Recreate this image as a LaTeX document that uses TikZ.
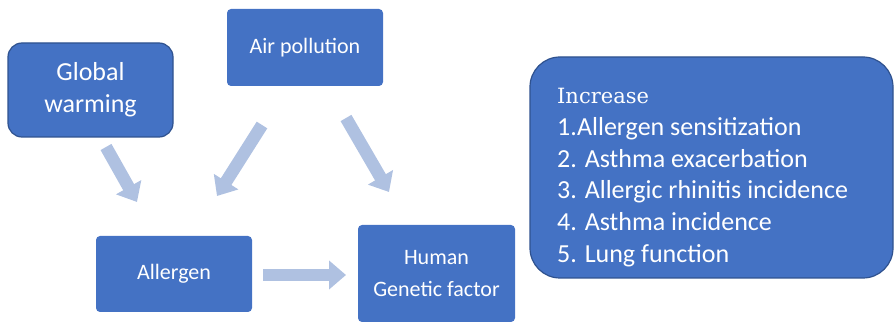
\documentclass[tikz,border=0pt]{standalone}
\usepackage{fontspec}
\setmainfont{Carlito}
\newfontfamily\serifinc{DejaVu Serif}
\usetikzlibrary{arrows.meta}
\definecolor{boxblue}{HTML}{4472C4}
\definecolor{boxedge}{HTML}{2F528F}
\definecolor{arrowblue}{HTML}{AFC1E1}
\begin{document}
\begin{tikzpicture}[x=1pt,y=-1pt,
  box/.style={fill=boxblue, text=white, rounded corners=4pt, inner sep=0pt, align=center},
  edgebox/.style={box, draw=boxedge, line width=1.2pt},
  blockarrow/.style={draw=arrowblue, line width=12.5pt, -{Triangle[width=28pt,length=17pt]}},
  lbl/.style={font=\fontsize{22}{32}\selectfont}
]
\useasboundingbox (0,0) rectangle (895,323);
\node[edgebox, rounded corners=14pt, minimum width=165pt, minimum height=94pt,
      font=\fontsize{26}{32}\selectfont] (gw) at (90.5,90) {Global\\warming};
\node[box, lbl, minimum width=156pt, minimum height=77pt] (ap) at (305,47.5) {Air pollution};
\node[box, lbl, minimum width=156pt, minimum height=76pt] (al) at (174,274) {Allergen};
\node[box, lbl, minimum width=157pt, minimum height=97pt] (hu) at (436.5,273.5) {Human\\Genetic factor};
\node[edgebox, rounded corners=30pt, minimum width=363pt, minimum height=221pt] (res) at (711.5,167.5) {};
\node[text=white, inner sep=0pt, anchor=north west, align=left,
      font=\fontsize{26}{31.8}\selectfont] (list) at (557,88)
  {{\serifinc\fontsize{21}{31.8}\selectfont Increase}\\
   1.Allergen sensitization\\
   2. Asthma exacerbation\\
   3. Allergic rhinitis incidence\\
   4. Asthma incidence\\
   5. Lung function};
\coordinate (t1) at (106,147); \coordinate (h1) at (137,202);
\coordinate (t2) at (262,125); \coordinate (h2) at (217,196);
\coordinate (t3) at (346,118); \coordinate (h3) at (389,192);
\coordinate (t4) at (263,275); \coordinate (h4) at (346,275);
\draw[blockarrow] (t1) -- (h1);
\draw[blockarrow] (t2) -- (h2);
\draw[blockarrow] (t3) -- (h3);
\draw[blockarrow] (t4) -- (h4);
\end{tikzpicture}
\end{document}
